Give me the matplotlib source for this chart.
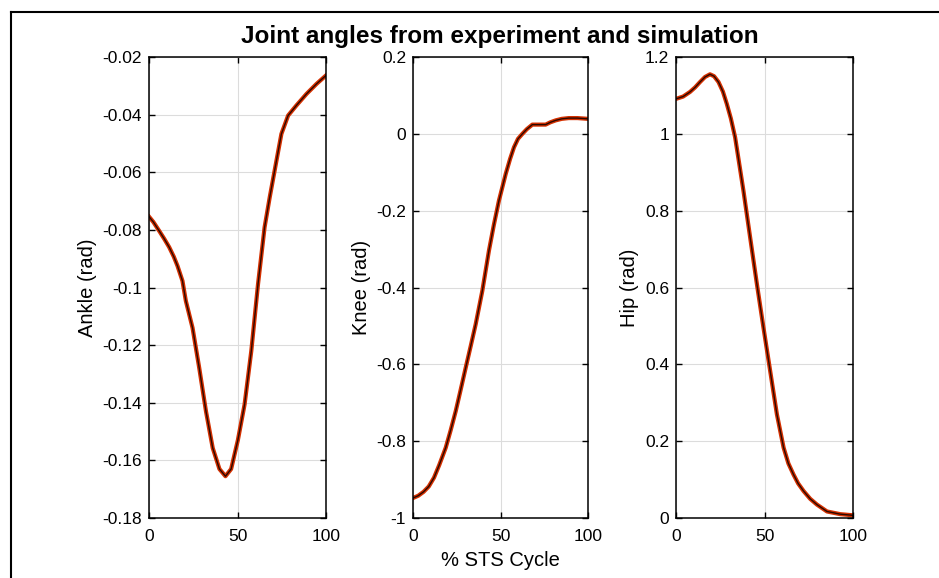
import matplotlib.pyplot as plt
import matplotlib.patheffects as pe
from matplotlib.lines import Line2D

plt.rcParams['font.family'] = ['Liberation Sans', 'DejaVu Sans']

# % STS cycle samples and joint angles (rad)
ankle_x = [0, 2.5, 5.7, 8.5, 11.4, 14, 16.1, 18.9, 20.8, 24.6, 28.4, 32.2, 36, 39.8,
           43.2, 46.4, 50.2, 54, 57.8, 61.6, 65.3, 68.2, 72, 74.8, 78.6, 83.3, 89, 94.7, 100]
ankle_y = [-0.0754, -0.0773, -0.0803, -0.0830, -0.086, -0.0893, -0.0925, -0.0977, -0.1046,
           -0.114, -0.128, -0.143, -0.1557, -0.163, -0.1655, -0.163, -0.153, -0.1406,
           -0.122, -0.0988, -0.0791, -0.0687, -0.056, -0.0467, -0.0403, -0.0368, -0.0328,
           -0.0293, -0.0264]

knee_x = [0, 3, 6, 9, 12, 15, 18.7, 21.5, 24.4, 27.2, 30.1, 33, 35.8, 39.6, 43.4, 46.2,
          49.1, 53, 55.5, 57.7, 60, 62.5, 65, 68.2, 72, 75.8, 78.5, 81.5, 85, 89, 94, 100]
knee_y = [-0.948, -0.942, -0.932, -0.918, -0.895, -0.862, -0.817, -0.772, -0.722, -0.667,
          -0.609, -0.552, -0.496, -0.409, -0.304, -0.237, -0.174, -0.104, -0.065, -0.035,
          -0.013, 0.0, 0.012, 0.024, 0.024, 0.024, 0.03, 0.035, 0.039, 0.041, 0.041, 0.039]

hip_x = [0, 4, 7.9, 10.8, 13.6, 16.4, 19.2, 21.5, 24, 26.5, 28.7, 31, 33.4, 38.1, 41.9,
         45.7, 49.4, 53.2, 57, 60.8, 63.5, 66.4, 69, 72.1, 75.8, 79.6, 85.3, 92.8, 100]
hip_y = [1.091, 1.097, 1.109, 1.121, 1.135, 1.148, 1.155, 1.15, 1.135, 1.11, 1.078, 1.04,
         0.991, 0.852, 0.73, 0.609, 0.496, 0.383, 0.27, 0.183, 0.142, 0.113, 0.09, 0.07,
         0.05, 0.035, 0.017, 0.01, 0.007]

panels = [
    (ankle_x, ankle_y, 'Ankle (rad)', (-0.18, -0.02), [-0.18, -0.16, -0.14, -0.12, -0.1, -0.08, -0.06, -0.04, -0.02],
     ['-0.18', '-0.16', '-0.14', '-0.12', '-0.1', '-0.08', '-0.06', '-0.04', '-0.02']),
    (knee_x, knee_y, 'Knee (rad)', (-1, 0.2), [-1, -0.8, -0.6, -0.4, -0.2, 0, 0.2],
     ['-1', '-0.8', '-0.6', '-0.4', '-0.2', '0', '0.2']),
    (hip_x, hip_y, 'Hip (rad)', (0, 1.2), [0, 0.2, 0.4, 0.6, 0.8, 1, 1.2],
     ['0', '0.2', '0.4', '0.6', '0.8', '1', '1.2']),
]

fig = plt.figure(figsize=(9.39, 5.78), dpi=100)
lefts = [149 / 939, 413 / 939, 676 / 939]
widths = [177 / 939, 175 / 939, 177 / 939]
bottom = 1 - 518 / 578
height = (518 - 57) / 578

for i, (x, y, lab, lim, ticks, tlabels) in enumerate(panels):
    ax = fig.add_axes([lefts[i], bottom, widths[i], height])
    ax.plot(x, y, color='#2a0800', lw=1.0,
            path_effects=[pe.Stroke(linewidth=3.0, foreground='#d43000'), pe.Normal()])
    ax.set_xlim(0, 100)
    ax.set_ylim(*lim)
    ax.set_xticks([0, 50, 100])
    ax.set_xticklabels(['0', '50', '100'])
    ax.set_yticks(ticks)
    ax.set_yticklabels(tlabels)
    ax.grid(True, color='#dcdcdc', lw=0.8)
    ax.set_axisbelow(True)
    ax.tick_params(direction='in', length=4, width=1, top=True, right=True,
                   labelsize=12.5)
    ax.tick_params(axis='x', pad=8)
    ax.tick_params(axis='y', pad=5)
    for s in ax.spines.values():
        s.set_linewidth(1.1)
    ax.set_ylabel(lab, fontsize=14.5, labelpad=4)
    if i == 1:
        ax.set_xlabel('% STS Cycle', fontsize=14.5, labelpad=5)

fig.text(500 / 939, 1 - 36 / 578, 'Joint angles from experiment and simulation',
         ha='center', va='center', fontsize=17.5, fontweight='bold')

# screenshot frame
fig.add_artist(Line2D([11 / 939, 11 / 939], [0, 1 - 12 / 578], color='black', lw=1.5,
                      transform=fig.transFigure))
fig.add_artist(Line2D([11 / 939, 1], [1 - 12 / 578, 1 - 12 / 578], color='black', lw=1.5,
                      transform=fig.transFigure))

fig.savefig('out.png', dpi=100)
